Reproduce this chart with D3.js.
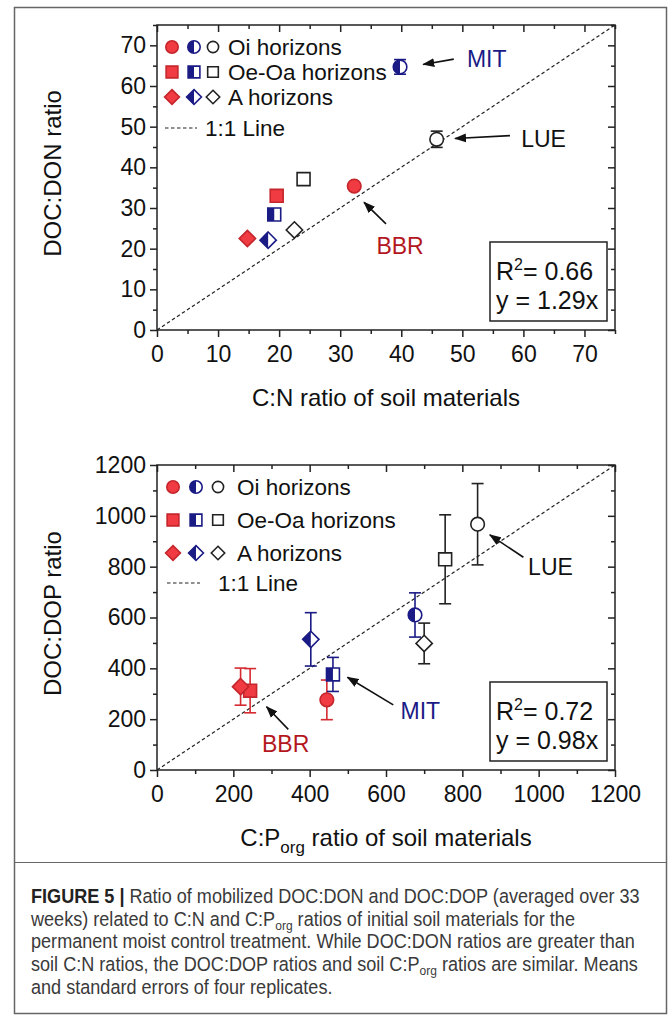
<!DOCTYPE html>
<html>
<head>
<meta charset="utf-8">
<script src="https://cdn.jsdelivr.net/npm/d3@7"></script>
<style>
  body { margin: 0; background: #fff; }
  text { font-family: "Liberation Sans", Arial, sans-serif; }
</style>
</head>
<body>
<script>
// one entry per soil sample: site x horizon
const pointSite    = ["BBR", "BBR", "BBR", "MIT", "MIT", "MIT", "LUE", "LUE", "LUE"]
const pointHorizon = ["Oi", "Oe-Oa", "A", "Oi", "Oe-Oa", "A", "Oi", "Oe-Oa", "A"]

// top panel: C:N of soil vs DOC:DON
const cnSoil   = [32.3, 19.6, 14.8, 39.8, 19.2, 18.2, 45.8, 24.0, 22.5]
const donRatio = [35.4, 33.0, 22.5, 64.7, 28.4, 22.1, 46.9, 37.1, 24.6]
const donErr   = [0.6, 0.6, 0.5, 1.8, 0.6, 0.5, 2.0, 0.6, 0.6]

// bottom panel: C:Porg of soil vs DOC:DOP
const cpSoil   = [445, 244, 219, 676, 461, 403, 840, 755, 700]
const dopRatio = [276, 312, 328, 610, 376, 514, 967, 829, 498]
const dopErr   = [78, 87, 73, 87, 67, 105, 160, 175, 80]

const cnTicks = [0, 10, 20, 30, 40, 50, 60, 70]
const cnMinor = [5, 15, 25, 35, 45, 55, 65, 75]
const cpTicks = [0, 200, 400, 600, 800, 1000, 1200]
const cpMinor = [100, 300, 500, 700, 900, 1100]

const legendLabels = ["Oi horizons", "Oe-Oa horizons", "A horizons", "1:1 Line"]

// site call-outs, in data units: [label, textX, textY, arrowFromX, arrowFromY, arrowToX, arrowToY]
const cnNotes = [
    ["MIT", 54.0, 64.7, 48.6, 66.6, 43.6, 65.3],
    ["LUE", 63.3, 45.1, 57.8, 47.8, 48.8, 47.1],
    ["BBR", 39.8, 18.7, 37.5, 26.1, 33.9, 31.4]
]
const cpNotes = [
    ["LUE", 1031, 767, 960, 837, 872, 925],
    ["MIT", 690, 199, 619, 256, 499, 365],
    ["BBR", 337, 72, 344, 160, 287, 249]
]

const captionLines = [
    [["b", "FIGURE 5 |"], ["", " Ratio of mobilized DOC:DON and DOC:DOP (averaged over 33"]],
    [["", "weeks) related to C:N and C:P"], ["s", "org"], ["", " ratios of initial soil materials for the"]],
    [["", "permanent moist control treatment. While DOC:DON ratios are greater than"]],
    [["", "soil C:N ratios, the DOC:DOP ratios and soil C:P"], ["s", "org"], ["", " ratios are similar. Means"]],
    [["", "and standard errors of four replicates."]]
]

const siteStyle = {
    BBR: { fill: "#ef3b41", stroke: "#c4262c", err: "#d42a30", text: "#b3171d", half: false },
    MIT: { fill: "#1b1b86", stroke: "#1b1b86", err: "#1b1b86", text: "#1b1b86", half: true },
    LUE: { fill: "#fff", stroke: "#222", err: "#222", text: "#111", half: false }
}

const W = 669, H = 1022

const svg = d3.select("body").append("svg")
    .attr("width", W)
    .attr("height", H)

const defs = svg.append("defs")
defs.append("clipPath").attr("id", "leftHalf")
    .append("rect").attr("x", -20).attr("y", -20).attr("width", 20).attr("height", 40)
defs.append("marker")
    .attr("id", "arrow")
    .attr("viewBox", "0 -5 12 10")
    .attr("refX", 11).attr("refY", 0)
    .attr("markerWidth", 12).attr("markerHeight", 10)
    .attr("markerUnits", "userSpaceOnUse")
    .attr("orient", "auto")
    .append("path").attr("d", "M0,-4.5L12,0L0,4.5Z").attr("fill", "#111")

// frame round the whole figure and the caption rule
svg.append("rect")
    .attr("x", 14.5).attr("y", 7.5).attr("width", 652).attr("height", 1006)
    .attr("fill", "none").attr("stroke", "#666").attr("stroke-width", 1.5)
svg.append("line")
    .attr("x1", 14.5).attr("x2", 666.5).attr("y1", 862.5).attr("y2", 862.5)
    .attr("stroke", "#666").attr("stroke-width", 1.2)

const shapePath = (horizon, s) => {
    const p = d3.path()
    if (horizon === "Oi") {
        p.moveTo(s, 0)
        p.arc(0, 0, s, 0, 2 * Math.PI)
    } else if (horizon === "Oe-Oa") {
        p.rect(-s * 0.95, -s * 0.95, s * 1.9, s * 1.9)
    } else {
        const d = s * 1.2
        p.moveTo(0, -d); p.lineTo(d, 0); p.lineTo(0, d); p.lineTo(-d, 0); p.closePath()
    }
    return p.toString()
}

const drawMarker = (g, site, horizon, s) => {
    const st = siteStyle[site]
    const path = shapePath(horizon, s)
    g.append("path").attr("d", path).attr("fill", st.half ? "#fff" : st.fill)
    if (st.half) {
        g.append("path").attr("d", path).attr("fill", st.fill).attr("clip-path", "url(#leftHalf)")
    }
    g.append("path").attr("d", path)
        .attr("fill", "none")
        .attr("stroke", st.stroke)
        .attr("stroke-width", 1.6)
}

const drawPanel = (cfg) => {
    const { top, bottom, left, right, max } = cfg

    const x = d3.scaleLinear().domain([0, max]).range([left, right])
    const y = d3.scaleLinear().domain([0, max]).range([bottom, top])
    const fmt = d3.format("d")

    const g = svg.append("g")

    // axes: outward ticks left/bottom, mirrored inward ticks top/right
    const styleAxis = sel => {
        sel.select(".domain").remove()
        sel.selectAll(".tick line").attr("stroke", "#222").attr("stroke-width", 1.5)
        sel.selectAll(".tick text")
            .attr("fill", "#111")
            .style("font-size", "23px")
            .style("font-family", "'Liberation Sans', Arial, sans-serif")
    }

    g.append("g").attr("transform", `translate(0,${bottom})`)
        .call(d3.axisBottom(x).tickValues(cfg.major).tickFormat(fmt).tickSize(7).tickPadding(9))
        .call(styleAxis)
    g.append("g").attr("transform", `translate(0,${bottom})`)
        .call(d3.axisBottom(x).tickValues(cfg.minor).tickSize(4).tickFormat(""))
        .call(styleAxis)
    g.append("g").attr("transform", `translate(${left},0)`)
        .call(d3.axisLeft(y).tickValues(cfg.major).tickFormat(fmt).tickSize(7).tickPadding(4))
        .call(styleAxis)
    g.append("g").attr("transform", `translate(${left},0)`)
        .call(d3.axisLeft(y).tickValues(cfg.minor).tickSize(4).tickFormat(""))
        .call(styleAxis)
    g.append("g").attr("transform", `translate(0,${top})`)
        .call(d3.axisTop(x).tickValues(cfg.major).tickSize(-7).tickFormat(""))
        .call(styleAxis)
    g.append("g").attr("transform", `translate(0,${top})`)
        .call(d3.axisTop(x).tickValues(cfg.minor).tickSize(-4).tickFormat(""))
        .call(styleAxis)
    g.append("g").attr("transform", `translate(${right},0)`)
        .call(d3.axisRight(y).tickValues(cfg.major).tickSize(-7).tickFormat(""))
        .call(styleAxis)
    g.append("g").attr("transform", `translate(${right},0)`)
        .call(d3.axisRight(y).tickValues(cfg.minor).tickSize(-4).tickFormat(""))
        .call(styleAxis)

    g.append("rect")
        .attr("x", left).attr("y", top)
        .attr("width", right - left).attr("height", bottom - top)
        .attr("fill", "none").attr("stroke", "#222").attr("stroke-width", 1.5)

    // 1:1 line
    g.append("line")
        .attr("x1", x(0)).attr("y1", y(0)).attr("x2", x(max)).attr("y2", y(max))
        .attr("stroke", "#222").attr("stroke-width", 1.2).attr("stroke-dasharray", "3.5,2.5")

    // axis titles
    const xt = g.append("text")
        .attr("x", (left + right) / 2).attr("y", bottom + 76)
        .attr("text-anchor", "middle").attr("fill", "#111")
        .style("font-size", "24px")
    cfg.xTitle.forEach(([kind, str]) => {
        const ts = xt.append("tspan").text(str)
        if (kind === "s") ts.attr("dy", 7).style("font-size", "17px")
        else if (kind === "a") ts.attr("dy", -7)
    })
    g.append("text")
        .attr("transform", `translate(61,${(top + bottom) / 2 - 4}) rotate(-90)`)
        .attr("text-anchor", "middle").attr("fill", "#111")
        .style("font-size", "24px")
        .text(cfg.yTitle)

    // error bars
    const idx = d3.range(cfg.xs.length)
    const eb = g.append("g")
    idx.forEach(i => {
        const col = siteStyle[pointSite[i]].err
        const cx = x(cfg.xs[i])
        const y0 = y(cfg.ys[i] - cfg.errs[i]), y1 = y(cfg.ys[i] + cfg.errs[i])
        eb.append("line").attr("x1", cx).attr("x2", cx).attr("y1", y0).attr("y2", y1)
            .attr("stroke", col).attr("stroke-width", 1.6)
        ;[y0, y1].forEach(yy => eb.append("line")
            .attr("x1", cx - 6).attr("x2", cx + 6).attr("y1", yy).attr("y2", yy)
            .attr("stroke", col).attr("stroke-width", 1.6))
    })

    // points
    idx.forEach(i => {
        const m = g.append("g").attr("transform", `translate(${x(cfg.xs[i])},${y(cfg.ys[i])})`)
        drawMarker(m, pointSite[i], pointHorizon[i], 6.8)
    })

    // call-outs
    cfg.notes.forEach(([label, tx, ty, ax0, ay0, ax1, ay1]) => {
        g.append("line")
            .attr("x1", x(ax0)).attr("y1", y(ay0)).attr("x2", x(ax1)).attr("y2", y(ay1))
            .attr("stroke", "#111").attr("stroke-width", 1.6)
            .attr("marker-end", "url(#arrow)")
        g.append("text")
            .attr("x", x(tx)).attr("y", y(ty))
            .attr("text-anchor", "middle")
            .attr("fill", siteStyle[label].text)
            .style("font-size", "23px")
            .text(label)
    })

    // legend
    const lg = g.append("g").attr("transform", `translate(${left},${top})`)
    const sitesOrder = ["BBR", "MIT", "LUE"]
    const horizonsOrder = ["Oi", "Oe-Oa", "A"]
    horizonsOrder.forEach((h, r) => {
        sitesOrder.forEach((s, c) => {
            const m = lg.append("g")
                .attr("transform", `translate(${cfg.legX[c]},${cfg.legY[r]})`)
            drawMarker(m, s, h, c === 2 ? 5.6 : 6.2)
        })
        lg.append("text")
            .attr("x", cfg.legText).attr("y", cfg.legY[r] + 8)
            .attr("fill", "#111").style("font-size", "22.5px")
            .text(legendLabels[r])
    })
    lg.append("line")
        .attr("x1", cfg.legLine[0]).attr("x2", cfg.legLine[1])
        .attr("y1", cfg.legY[3]).attr("y2", cfg.legY[3])
        .attr("stroke", "#222").attr("stroke-width", 1.2).attr("stroke-dasharray", "3.5,2.5")
    lg.append("text")
        .attr("x", cfg.legLine[2]).attr("y", cfg.legY[3] + 8)
        .attr("fill", "#111").style("font-size", "22.5px")
        .text(legendLabels[3])

    // statistics box
    const bx = right - 125, by = bottom - 88
    g.append("rect")
        .attr("x", bx).attr("y", by).attr("width", 117).attr("height", 79)
        .attr("fill", "#fff").attr("stroke", "#222").attr("stroke-width", 1.5)
    const r2 = g.append("text").attr("x", bx + 6).attr("y", by + 38)
        .attr("fill", "#111").style("font-size", "25px")
    r2.append("tspan").text("R")
    r2.append("tspan").attr("dy", -10).style("font-size", "16px").text("2")
    r2.append("tspan").attr("dy", 10).text(`= ${cfg.r2}`)
    g.append("text").attr("x", bx + 6).attr("y", by + 67)
        .attr("fill", "#111").style("font-size", "25px")
        .text(`y = ${cfg.slope}x`)
}

drawPanel({
    top: 25, bottom: 330, left: 157, right: 615, max: 75,
    major: cnTicks, minor: cnMinor,
    xs: cnSoil, ys: donRatio, errs: donErr,
    xTitle: [["", "C:N ratio of soil materials"]],
    yTitle: "DOC:DON ratio",
    notes: cnNotes,
    r2: "0.66", slope: "1.29",
    legX: [15, 37, 56], legY: [22, 47, 72, 103], legText: 71, legLine: [8, 40, 48]
})

drawPanel({
    top: 465, bottom: 770, left: 157, right: 615, max: 1200,
    major: cpTicks, minor: cpMinor,
    xs: cpSoil, ys: dopRatio, errs: dopErr,
    xTitle: [["", "C:P"], ["s", "org"], ["a", " ratio of soil materials"]],
    yTitle: "DOC:DOP ratio",
    notes: cpNotes,
    r2: "0.72", slope: "0.98",
    legX: [16, 39, 61], legY: [22, 55, 88, 118], legText: 80, legLine: [10, 43, 61]
})

// caption, squeezed horizontally to the narrow caption face of the original
const cap = svg.append("g")
const capTexts = captionLines.map((parts, i) => {
    const t = cap.append("text")
        .attr("x", 0).attr("y", 0)
        .attr("fill", "#3a3a3a")
        .style("font-size", "19.5px")
    let prev = ""
    parts.forEach(([kind, str]) => {
        const ts = t.append("tspan").text(str)
        if (kind === "b") ts.style("font-weight", "bold").attr("fill", "#222")
        if (kind === "s") ts.attr("dy", 4).style("font-size", "13px")
        if (kind === "" && prev === "s") ts.attr("dy", -4)
        prev = kind
    })
    return t
})
const sx = 609 / capTexts[0].node().getComputedTextLength()
capTexts.forEach((t, i) => t.attr("transform", `translate(31,${903 + i * 22.7}) scale(${sx},1)`))
</script>
</body>
</html>
